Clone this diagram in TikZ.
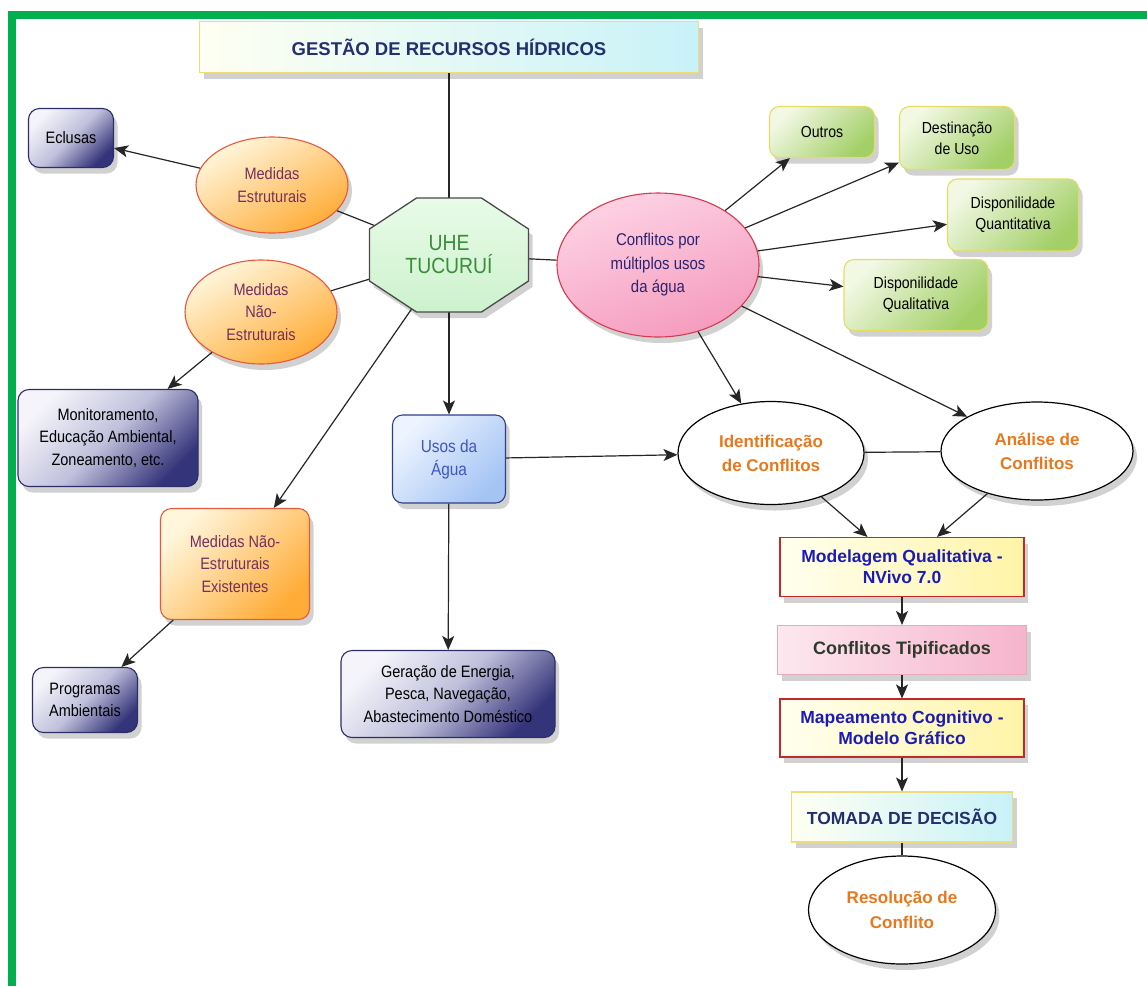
\documentclass[tikz,border=0pt]{standalone}
\usepackage{fontspec}
\setmainfont{Liberation Sans}
\newfontfamily\narrowsans{Liberation Sans}[FakeStretch=0.88]
\usetikzlibrary{shapes.geometric,arrows.meta,shadows}
\pgfdeclarelayer{background}
\pgfsetlayers{background,main}

\definecolor{framegreen}{HTML}{00B050}
\definecolor{navytext}{HTML}{24306E}
\definecolor{graylight}{HTML}{F4F4FA}
\definecolor{graymid}{HTML}{C0C0DC}
\definecolor{graydark}{HTML}{34347A}
\definecolor{grayline}{HTML}{2E2E66}
\definecolor{orlight}{HTML}{FFF6DC}
\definecolor{ordark}{HTML}{FFAC38}
\definecolor{orline}{HTML}{E45A3C}
\definecolor{ortext}{HTML}{74305E}
\definecolor{octfillA}{HTML}{E8FBE8}
\definecolor{octfillB}{HTML}{CDF2CD}
\definecolor{octline}{HTML}{4A4A4A}
\definecolor{octtext}{HTML}{3B8C3B}
\definecolor{pinkA}{HTML}{FDD2E3}
\definecolor{pinkB}{HTML}{F59BBE}
\definecolor{pinkline}{HTML}{D63A52}
\definecolor{conftext}{HTML}{2C2370}
\definecolor{grnA}{HTML}{F2F8E4}
\definecolor{grnB}{HTML}{A2CF66}
\definecolor{grnline}{HTML}{E6DC64}
\definecolor{bluA}{HTML}{EEF4FF}
\definecolor{bluB}{HTML}{A4C4F4}
\definecolor{bluline}{HTML}{2F3E8C}
\definecolor{blutext}{HTML}{3E56C4}
\definecolor{yelA}{HTML}{FFFFF0}
\definecolor{yelB}{HTML}{FFF4A6}
\definecolor{redline}{HTML}{C42828}
\definecolor{modtext}{HTML}{1C1CB4}
\definecolor{tipA}{HTML}{FCE8EF}
\definecolor{tipB}{HTML}{F6B4CC}
\definecolor{tipline}{HTML}{E8A8C0}
\definecolor{tiptext}{HTML}{2E3A2E}
\definecolor{cyanA}{HTML}{FFFFF2}
\definecolor{cyanB}{HTML}{C8F2F8}
\definecolor{cyanline}{HTML}{ECDC7A}
\definecolor{orangetext}{HTML}{E8781E}
\definecolor{wire}{HTML}{262626}

\begin{document}
\begin{tikzpicture}[x=1pt,y=-1pt,
  softshadow/.style={drop shadow={opacity=0.18,fill=black,shadow xshift=4pt,shadow yshift=-6pt}},
  plain/.style={font=\narrowsans\fontsize{16.5}{22.5}\selectfont, align=center, inner sep=2pt},
  boldtxt/.style={font=\bfseries\fontsize{17.5}{21}\selectfont, align=center, inner sep=2pt},
  graybox/.style={plain, rectangle, rounded corners=11pt, draw=grayline, line width=1.1pt,
    top color=graylight, bottom color=graydark, middle color=graymid, shading angle=45, softshadow},
  orangeell/.style={plain, ellipse, draw=orline, line width=1.1pt, text=ortext,
    top color=orlight, bottom color=ordark, shading angle=30, softshadow},
  orangebox/.style={plain, rectangle, rounded corners=11pt, draw=orline, line width=1.1pt, text=ortext,
    top color=orlight, bottom color=ordark, shading angle=45, softshadow},
  greenbox/.style={plain, font=\narrowsans\fontsize{16}{21}\selectfont, rectangle, rounded corners=10pt,
    draw=grnline, line width=1.1pt, top color=grnA, bottom color=grnB, shading angle=45, softshadow},
  bluebox/.style={plain, font=\narrowsans\fontsize{17.5}{23}\selectfont, rectangle, rounded corners=10pt,
    draw=bluline, line width=1.1pt, text=blutext, top color=bluA, bottom color=bluB, shading angle=45, softshadow},
  pinkell/.style={plain, font=\narrowsans\fontsize{17}{23.5}\selectfont, ellipse, draw=pinkline, line width=1.1pt,
    text=conftext, top color=pinkA, bottom color=pinkB, shading angle=20, softshadow},
  whiteell/.style={boldtxt, ellipse, draw=black, line width=1.2pt, fill=white, text=orangetext, softshadow},
  yellowbox/.style={boldtxt, rectangle, draw=redline, line width=1.1pt, text=modtext,
    left color=yelA, right color=yelB, softshadow},
  pinkbox/.style={boldtxt, rectangle, draw=tipline, line width=1.1pt, text=tiptext,
    left color=tipA, right color=tipB, softshadow},
  cyanbox/.style={boldtxt, rectangle, draw=cyanline, line width=1.1pt, text=navytext,
    left color=cyanA, right color=cyanB, softshadow},
  conn/.style={draw=wire, line width=1.2pt},
  arr/.style={conn, -{Stealth[length=14pt,width=12pt,inset=3.5pt]}}
]
\useasboundingbox (0,0) rectangle (1147,986);
\begin{pgfonlayer}{background}
  \fill[white] (0,0) rectangle (1147,986);
\end{pgfonlayer}

% green frame on the top and left edges
\fill[framegreen] (8,11) rectangle (1147,19);
\fill[framegreen] (8,11) rectangle (16,986);

% title
\node[cyanbox, font=\bfseries\fontsize{18.5}{22}\selectfont, minimum width=499pt, minimum height=51pt]
  (gestao) at (449,47) {GESTÃO DE RECURSOS HÍDRICOS};

% central octagon
\coordinate (uhec) at (449,255);
\path[draw=octline, line width=1.3pt, top color=octfillA, bottom color=octfillB, softshadow]
  (uhec) ++(-32.5,-57) -- ++(65,0) -- ++(47,31) -- ++(0,52) -- ++(-47,31)
  -- ++(-65,0) -- ++(-47,-31) -- ++(0,-52) -- cycle;
\node[font=\narrowsans\fontsize{22}{23}\selectfont, align=center, text=octtext,
  minimum width=159pt, minimum height=114pt] (uhe) at (uhec) {UHE\\TUCURUÍ};

% left branch
\node[orangeell, minimum width=152pt, minimum height=96pt] (mest) at (272,185) {Medidas\\Estruturais};
\node[orangeell, minimum width=152pt, minimum height=104pt] (mnest) at (261,312) {Medidas\\Não-\\Estruturais};
\node[graybox, minimum width=85pt, minimum height=59pt] (eclusas) at (71,138) {Eclusas};
\node[graybox, minimum width=180pt, minimum height=97pt] (monit) at (108,438)
  {Monitoramento,\\Educação Ambiental,\\Zoneamento, etc.};
\node[orangebox, minimum width=149pt, minimum height=111pt] (mexist) at (235,564)
  {Medidas Não-\\Estruturais\\Existentes};
\node[graybox, minimum width=105pt, minimum height=65pt] (prog) at (85,700) {Programas\\Ambientais};

% water uses
\node[bluebox, minimum width=113pt, minimum height=88pt] (usos) at (449,459) {Usos da\\Água};
\node[graybox, minimum width=214pt, minimum height=87pt] (geracao) at (448,694)
  {Geração de Energia,\\Pesca, Navegação,\\Abastecimento Doméstico};

% conflicts
\node[pinkell, minimum width=202pt, minimum height=144pt] (conf) at (658,265)
  {Conflitos por\\múltiplos usos\\da água};
\node[greenbox, minimum width=105pt, minimum height=51pt] (outros) at (822,132) {Outros};
\node[greenbox, minimum width=115pt, minimum height=63pt] (destin) at (957,138) {Destinação\\de Uso};
\node[greenbox, minimum width=131pt, minimum height=72pt] (quant) at (1013,215) {Disponilidade\\Quantitativa};
\node[greenbox, minimum width=144pt, minimum height=71pt] (qual) at (916,295) {Disponilidade\\Qualitativa};

% analysis chain
\node[whiteell, font=\bfseries\fontsize{17}{24}\selectfont, minimum width=186pt, minimum height=103pt]
  (ident) at (771,453) {Identificação\\de Conflitos};
\node[whiteell, font=\bfseries\fontsize{17}{24}\selectfont, minimum width=192pt, minimum height=98pt]
  (analise) at (1037,451) {Análise de\\Conflitos};
\node[yellowbox, minimum width=244pt, minimum height=59pt] (model) at (902,567)
  {Modelagem Qualitativa -\\NVivo 7.0};
\node[pinkbox, font=\bfseries\fontsize{18}{22}\selectfont, minimum width=249pt, minimum height=49pt]
  (tipif) at (902,650) {Conflitos Tipificados};
\node[yellowbox, minimum width=244pt, minimum height=58pt] (mapa) at (902,728)
  {Mapeamento Cognitivo -\\Modelo Gráfico};
\node[cyanbox, font=\bfseries\fontsize{17.5}{22}\selectfont, minimum width=221pt, minimum height=50pt]
  (tomada) at (902,817) {TOMADA DE DECISÃO};
\node[whiteell, font=\bfseries\fontsize{17}{25}\selectfont, minimum width=187pt, minimum height=108pt]
  (resol) at (902,910) {Resolução de\\Conflito};

% links that meet the octagon run from its centre, under the octagon fill
\begin{pgfonlayer}{background}
  \draw[conn] (gestao) -- (gestao |- uhe);
  \draw[conn] (mest) -- (uhe.center);
  \draw[conn] (mnest) -- (uhe.center);
  \draw[conn] (conf) -- (uhe.center);
  \draw[arr] (uhe.center) -- (mexist);
  \draw[arr] (uhe.center) -- (usos);
\end{pgfonlayer}

% remaining links
\draw[arr] (mest) -- (eclusas);
\draw[arr] (mnest) -- (monit);
\draw[arr] (mexist) -- (prog);
\draw[arr] (usos) -- (geracao);
\draw[arr] (usos) -- (ident);
\draw[arr] (conf) -- (outros);
\draw[arr] (conf) -- (destin);
\draw[arr] (conf) -- (quant);
\draw[arr] (conf) -- (qual);
\draw[arr] (conf) -- (ident);
\draw[arr] (conf) -- (analise);
\draw[conn] (ident) -- (analise);
\draw[arr] (ident) -- (model);
\draw[arr] (analise) -- (model);
\draw[arr] (model) -- (tipif);
\draw[arr] (tipif) -- (mapa);
\draw[arr] (mapa) -- (tomada);
\draw[conn] (tomada) -- (resol);
\end{tikzpicture}
\end{document}
